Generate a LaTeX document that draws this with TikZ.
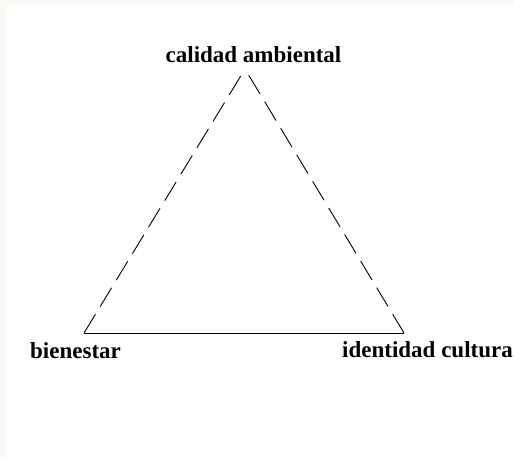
\documentclass[tikz,border=0pt]{standalone}
\usepackage{fontspec}
\setmainfont{Liberation Serif}
\definecolor{band}{HTML}{F9FAF4}
\begin{document}
\begin{tikzpicture}[x=1pt,y=-1pt,
  lbl/.style={inner sep=0pt, font=\fontsize{23}{26}\selectfont\bfseries},
  side/.style={line width=0.9pt, black},
  dsh/.style={side, dash pattern=on 22pt off 9pt}]
\useasboundingbox (0,0) rectangle (514,459);
\fill[white] (0,0) rectangle (514,459);
\fill[band] (0,0) rectangle (514,5);
\fill[band] (0,0) rectangle (7,459);
\coordinate (top) at (245,69);
\coordinate (bl) at (84,333);
\coordinate (br) at (404,333);
\draw[dsh] (bl) -- (top);
\draw[dsh] (br) -- (top);
\draw[side] (bl) -- (br);
\node[lbl, anchor=base] (calidad) at (253.5,62) {calidad ambiental};
\node[lbl, anchor=base west] (bien) at (30,358) {bienestar};
\node[lbl, anchor=base west] (iden) at (342,357) {identidad cultura};
\end{tikzpicture}
\end{document}
